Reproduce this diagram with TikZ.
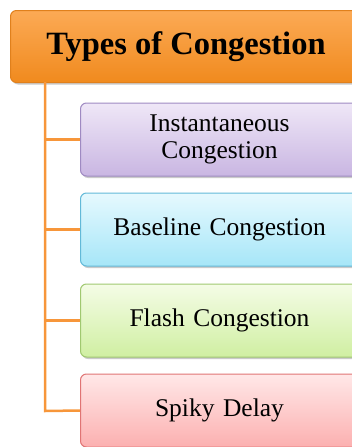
\documentclass[tikz,border=0pt]{standalone}
\usepackage{fontspec}
\setmainfont{Liberation Serif}
\usetikzlibrary{shadows}
\definecolor{orTop}{HTML}{FCAA55}
\definecolor{orBot}{HTML}{F08A1E}
\definecolor{orLine}{HTML}{E0801C}
\definecolor{conn}{HTML}{F7963A}
\definecolor{puTop}{HTML}{EFE7F7}
\definecolor{puBot}{HTML}{C9B6E2}
\definecolor{puLine}{HTML}{9F8AC2}
\definecolor{blTop}{HTML}{E6F9FE}
\definecolor{blBot}{HTML}{A6E6F8}
\definecolor{blLine}{HTML}{62B9D8}
\definecolor{grTop}{HTML}{F4FCE6}
\definecolor{grBot}{HTML}{D0EFA2}
\definecolor{grLine}{HTML}{A0C870}
\definecolor{reTop}{HTML}{FFE8E8}
\definecolor{reBot}{HTML}{FCB0B0}
\definecolor{reLine}{HTML}{E07474}
\tikzset{
  x=1pt, y=1pt,
  boxbase/.style={rounded corners=6pt, line width=1pt, drop shadow={shadow xshift=1.5pt, shadow yshift=-2pt, opacity=0.35, fill=black!60}},
  childbox/.style={boxbase, minimum width=278pt, minimum height=73pt, anchor=west, align=center, font=\fontsize{25.5}{27.5}\selectfont, text width=270pt, inner sep=0pt},
  conline/.style={draw=conn, line width=2.5pt},
}
\begin{document}
\begin{tikzpicture}
\useasboundingbox (0,0) rectangle (352,-447);
\clip (0,0) rectangle (352,-447);
\node[boxbase, draw=orLine, top color=orTop, bottom color=orBot, minimum width=360pt, minimum height=72pt, anchor=north west, inner sep=0pt] (title) at (10,-10) {};
\node[font=\bfseries\fontsize{32.5}{34}\selectfont] (ttext) at (186,-47) {Types of Congestion};
\node[childbox, draw=puLine, top color=puTop, bottom color=puBot] (c1) at (80,-139.5) {Instantaneous\\Congestion};
\node[childbox, draw=blLine, top color=blTop, bottom color=blBot] (c2) at (80,-229.5) {Baseline Congestion};
\node[childbox, draw=grLine, top color=grTop, bottom color=grBot] (c3) at (80,-320.5) {Flash Congestion};
\node[childbox, draw=reLine, top color=reTop, bottom color=reBot] (c4) at (80,-410.5) {Spiky Delay};
\coordinate (top) at (45,-82);
\draw[conline] (top) -- (45,-411) -- (c4.west);
\draw[conline] (45,-139.5) -- (c1.west);
\draw[conline] (45,-229.5) -- (c2.west);
\draw[conline] (45,-320.5) -- (c3.west);
\end{tikzpicture}
\end{document}
